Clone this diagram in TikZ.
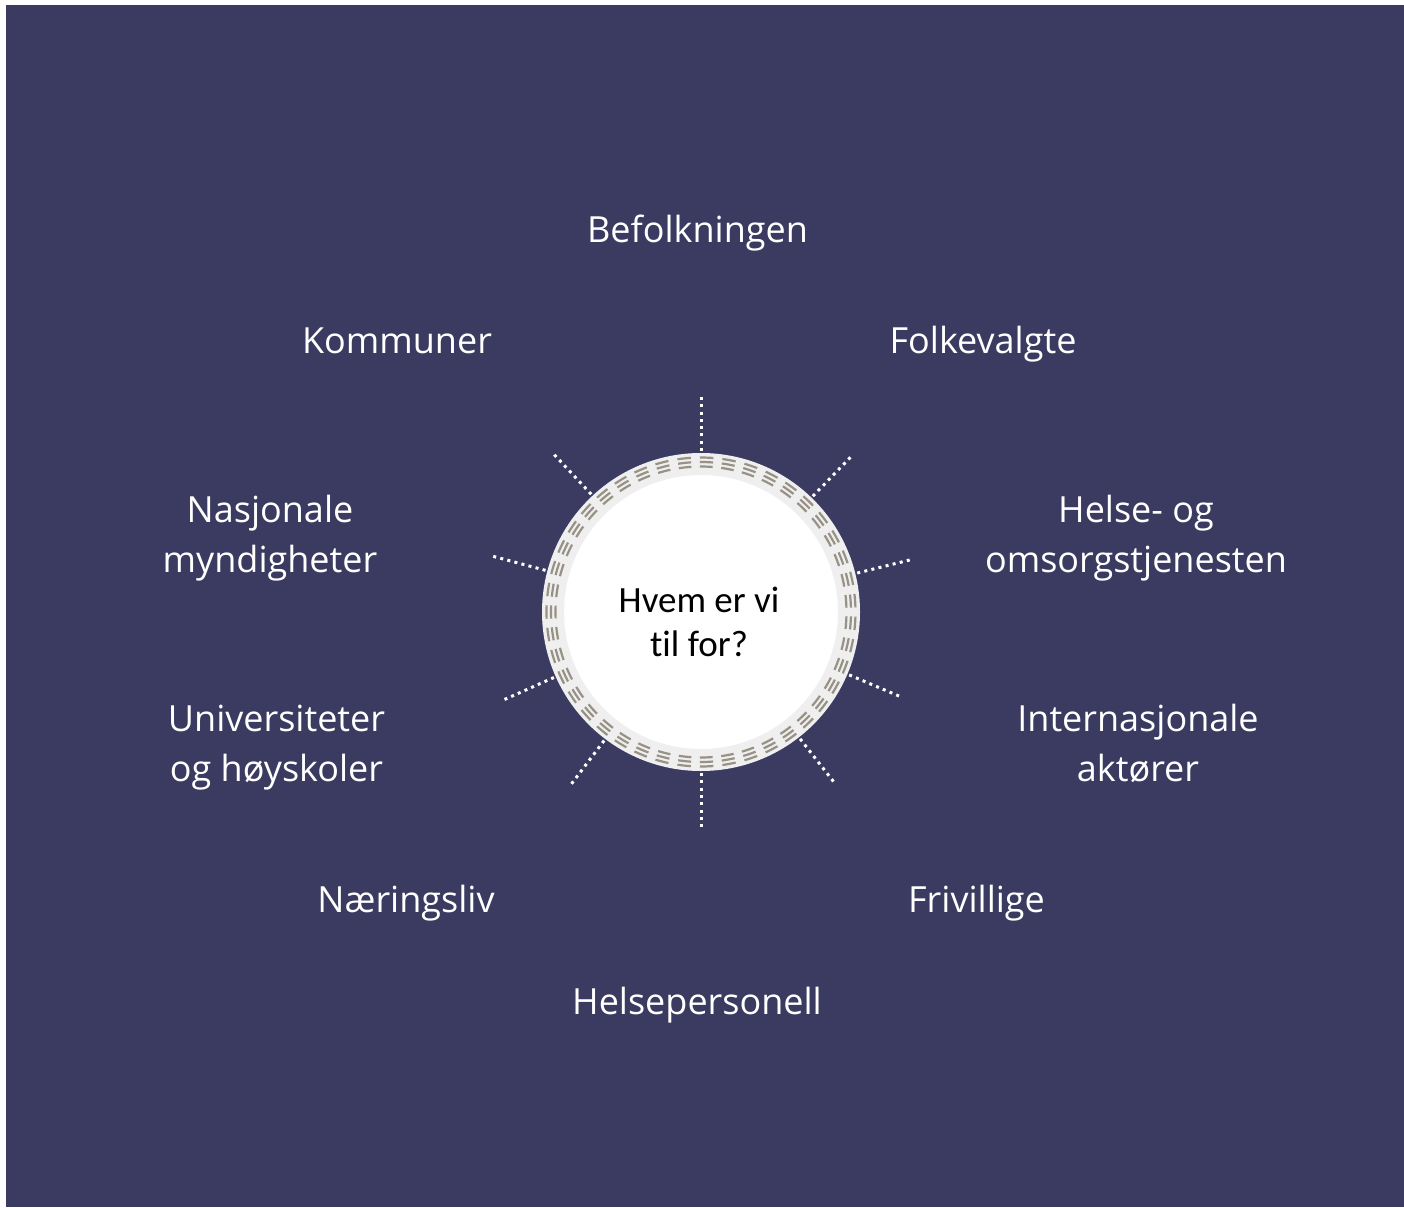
\documentclass[tikz,border=0pt]{standalone}
\usepackage{fontspec}
\setmainfont{Open Sans}
\newfontfamily\hubfont{Carlito}[Ligatures=NoCommon]
\usetikzlibrary{calc}
\definecolor{bg}{RGB}{59,58,96}
\definecolor{ringgrey}{RGB}{239,239,239}
\definecolor{markgrey}{RGB}{152,146,134}
\begin{document}
\begin{tikzpicture}[x=1pt,y=-1pt,
  lbl/.style={text=white,font=\fontsize{36}{50}\selectfont,align=center,inner sep=0pt,anchor=base},
  ray/.style={white,line width=3pt,dash pattern=on 3pt off 4.3pt},
  tick/.style={markgrey,line width=2.2pt}]
\useasboundingbox (0,0) rectangle (1404,1207);
\fill[white] (0,0) rectangle (1404,1207);
\fill[bg] (6,5) rectangle (1404,1207);
\node[circle,fill=white,draw=ringgrey,line width=22pt,minimum size=296pt,inner sep=0pt] (hub) at (701,612) {};
\node[text=black,font=\hubfont\fontsize{37}{44}\selectfont,align=center,inner sep=0pt,anchor=base] (hubtxt) at (699,656) {Hvem er vi\\til for?};
% tick marks on the ring
\begin{scope}[shift={(hub.center)},x=1pt,y=1pt]
  \foreach \i in {0,...,42}{
    \pgfmathsetmacro{\ang}{180+\i*360/43}
    \foreach \r in {145.5,150,154.5}{
      \draw[tick] (\ang-2.5:\r) arc[start angle=\ang-2.5,end angle=\ang+2.5,radius=\r];
    }
  }
\end{scope}
% dotted rays
\foreach \t [count=\k] in {90,46.5,14.5,-23.8,-52.3,-90,-127.7,-156.4,165,133.5}{
  \coordinate (rin\k) at ($(hub.center)!161pt!(hub.\t)$);
  \coordinate (rout\k) at ($(hub.center)!216pt!(hub.\t)$);
  \draw[ray] (rin\k) -- (rout\k);
}
\node[lbl] (befolk) at (697.5,242) {Befolkningen};
\node[lbl] (komm) at (397,353) {Kommuner};
\node[lbl] (folk) at (983,353) {Folkevalgte};
\node[lbl] (nasj) at (270,572) {Nasjonale\\myndigheter};
\node[lbl] (helse) at (1136,572) {Helse- og\\omsorgstjenesten};
\node[lbl] (univ) at (276.5,781) {Universiteter\\og høyskoler};
\node[lbl] (intl) at (1138,781) {Internasjonale\\aktører};
\node[lbl] (naer) at (406,912) {Næringsliv};
\node[lbl] (friv) at (976.5,912) {Frivillige};
\node[lbl] (hpers) at (697,1014) {Helsepersonell};
\end{tikzpicture}
\end{document}
